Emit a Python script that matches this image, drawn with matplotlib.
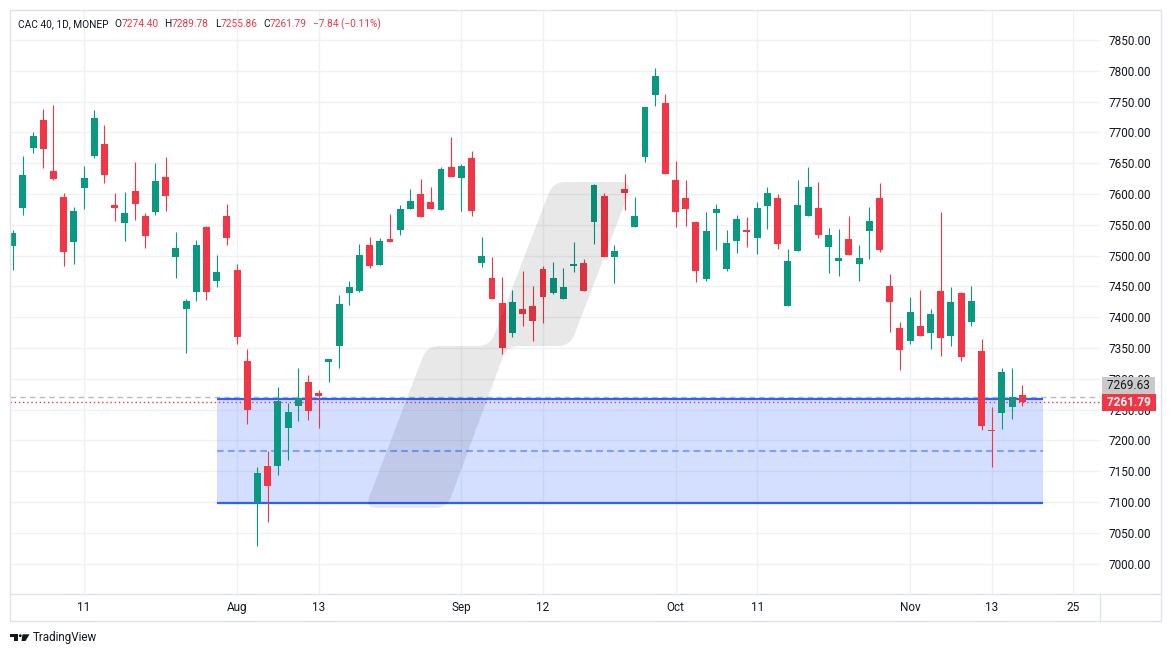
import matplotlib.pyplot as plt
import numpy as np
import pandas as pd
from matplotlib import transforms
from matplotlib.patches import Polygon, Rectangle, Circle, PathPatch
from matplotlib.path import Path

plt.rcParams['font.family'] = ['Roboto', 'DejaVu Sans']

# daily OHLC, CAC 40, 2 Jul - 18 Nov 2024
opens = [7516.1, 7577.8, 7675.2, 7720.1, 7637.3, 7595.1, 7522.6, 7610.3, 7662.2, 7681.1,
         7582.1, 7553.4, 7604.8, 7564.3, 7571.3, 7627.6, 7498.2, 7413.8, 7441.4, 7546.4,
         7459.3, 7564.3, 7476.6, 7328.9, 7097.8, 7158.4, 7159.0, 7220.7, 7256.4, 7294.8,
         7276.9, 7327.8, 7353.8, 7439.8, 7443.1, 7517.2, 7485.3, 7526.9, 7542.1, 7576.2,
         7600.0, 7587.0, 7574.5, 7643.8, 7626.5, 7658.4, 7488.5, 7463.6, 7423.1, 7374.9,
         7413.4, 7418.2, 7478.3, 7439.9, 7430.1, 7483.2, 7488.0, 7554.6, 7596.8, 7497.8,
         7608.2, 7546.5, 7660.1, 7760.8, 7747.7, 7622.7, 7593.5, 7554.5, 7462.5, 7569.7,
         7478.8, 7524.2, 7541.5, 7529.1, 7581.0, 7593.5, 7418.7, 7508.0, 7564.8, 7577.3,
         7514.5, 7491.8, 7526.9, 7486.9, 7540.5, 7593.5, 7450.6, 7382.5, 7361.9, 7385.7,
         7374.9, 7442.5, 7370.0, 7439.3, 7392.7, 7345.1, 7215.5, 7245.0, 7254.8, 7274.40]
highs = [7541.5, 7661.7, 7700.6, 7738.0, 7744.5, 7601.6, 7578.9, 7645.4, 7736.3, 7712.0,
         7601.6, 7603.2, 7651.9, 7569.1, 7650.3, 7660.0, 7538.3, 7429.5, 7525.3, 7548.0,
         7501.0, 7583.7, 7486.3, 7348.4, 7156.8, 7182.2, 7286.7, 7260.7, 7317.5, 7306.2,
         7281.8, 7332.5, 7436.0, 7458.7, 7518.8, 7530.2, 7528.6, 7567.5, 7582.1, 7608.1,
         7624.3, 7611.3, 7643.8, 7692.5, 7648.7, 7669.8, 7530.2, 7497.7, 7465.3, 7444.2,
         7475.1, 7450.7, 7483.2, 7489.7, 7479.9, 7522.1, 7494.5, 7616.0, 7601.7, 7517.3,
         7632.5, 7595.2, 7742.0, 7804.6, 7762.3, 7653.5, 7622.7, 7555.0, 7570.8, 7583.7,
         7541.5, 7565.9, 7562.6, 7587.0, 7611.3, 7600.0, 7510.7, 7622.7, 7643.8, 7619.5,
         7544.8, 7543.2, 7564.3, 7517.2, 7578.9, 7617.8, 7470.1, 7392.2, 7432.8, 7444.1,
         7413.3, 7570.8, 7449.0, 7440.5, 7450.6, 7364.6, 7253.7, 7317.0, 7317.5, 7289.78]
lows = [7476.6, 7565.9, 7667.1, 7642.7, 7623.0, 7483.6, 7486.9, 7576.2, 7659.0, 7618.4,
        7556.7, 7524.2, 7558.3, 7512.9, 7566.4, 7572.9, 7464.2, 7341.3, 7426.8, 7428.4,
        7449.5, 7517.2, 7356.5, 7226.6, 7029.1, 7068.1, 7144.4, 7168.7, 7232.0, 7233.6,
        7220.7, 7295.3, 7318.1, 7420.3, 7441.0, 7480.4, 7484.0, 7522.0, 7533.4, 7576.0,
        7563.0, 7576.0, 7574.0, 7628.0, 7572.9, 7564.8, 7482.0, 7430.0, 7340.9, 7368.5,
        7386.3, 7362.0, 7391.2, 7438.3, 7430.0, 7473.4, 7443.0, 7518.9, 7497.0, 7455.6,
        7574.1, 7546.0, 7652.0, 7742.9, 7632.0, 7546.9, 7548.6, 7457.7, 7459.3, 7509.6,
        7475.5, 7504.7, 7514.5, 7503.1, 7543.7, 7511.2, 7418.0, 7508.0, 7564.0, 7529.1,
        7472.3, 7467.4, 7501.0, 7459.3, 7495.0, 7506.4, 7376.5, 7314.8, 7357.0, 7369.0,
        7348.9, 7337.5, 7353.8, 7329.4, 7386.2, 7217.4, 7157.4, 7219.1, 7235.3, 7255.86]
closes = [7536.1, 7630.8, 7694.1, 7673.6, 7624.9, 7506.4, 7572.4, 7625.9, 7723.3, 7631.4,
          7577.8, 7569.1, 7584.3, 7532.3, 7621.1, 7597.3, 7512.3, 7426.3, 7517.2, 7441.4,
          7473.4, 7529.1, 7368.4, 7249.9, 7147.1, 7126.5, 7263.9, 7246.1, 7268.3, 7248.3,
          7272.6, 7331.6, 7421.4, 7449.0, 7501.0, 7483.6, 7523.7, 7522.6, 7575.6, 7588.6,
          7563.2, 7576.2, 7640.6, 7628.1, 7645.4, 7572.9, 7499.3, 7430.1, 7350.6, 7424.7,
          7405.8, 7394.4, 7433.4, 7463.7, 7449.1, 7486.4, 7443.1, 7614.7, 7497.8, 7507.5,
          7601.7, 7564.3, 7741.3, 7791.6, 7632.4, 7571.3, 7576.2, 7475.5, 7539.9, 7575.6,
          7520.4, 7559.4, 7538.8, 7577.3, 7601.6, 7519.4, 7491.2, 7582.1, 7611.3, 7534.0,
          7533.4, 7496.1, 7501.5, 7496.1, 7556.1, 7509.6, 7425.2, 7347.3, 7408.4, 7370.0,
          7405.2, 7366.8, 7424.7, 7335.9, 7426.3, 7223.9, 7214.7, 7311.1, 7269.63, 7261.79]

first_day = '2024-07-02'
tick_dates = ['2024-07-11', '2024-08-01', '2024-08-13', '2024-09-02', '2024-09-12',
              '2024-10-01', '2024-10-11', '2024-11-01', '2024-11-13', '2024-11-25']
tick_labels = ['11', 'Aug', '13', 'Sep', '12', 'Oct', '11', 'Nov', '13', '25']
price_ticks = list(range(7000, 7851, 50))

prev_close = 7269.63
last_close = 7261.79
channel_top = 7267.5
channel_bottom = 7098.5
channel_start = '2024-07-30'
channel_end = '2024-11-20'

header = [('CAC 40, 1D, MONEP', 'k', 0), ('O', 'k', 4.3), ('7274.40', 'r', 0),
          ('H', 'k', 4.3), ('7289.78', 'r', 0), ('L', 'k', 4.3), ('7255.86', 'r', 0),
          ('C', 'k', 4.3), ('7261.79', 'r', 0), ('\u22127.84 (\u22120.11%)', 'r', 4.3)]

UP, DOWN, INK, GRID, LINE = '#089981', '#f23645', '#131722', '#f0f1f4', '#e0e3eb'
BLUE = '#2962ff'


def rounded(verts, r):
    # closed path through verts with each corner cut to a quadratic curve
    verts = np.asarray(verts, float)
    n = len(verts)
    pts, codes = [], []
    for i, v in enumerate(verts):
        p, q = verts[i - 1], verts[(i + 1) % n]
        a = v + r * (p - v) / np.linalg.norm(p - v)
        b = v + r * (q - v) / np.linalg.norm(q - v)
        pts += [a, v, b]
        codes += [Path.MOVETO if i == 0 else Path.LINETO, Path.CURVE3, Path.CURVE3]
    pts.append(pts[0])
    codes.append(Path.CLOSEPOLY)
    return Path(pts, codes)


W, H = 1171, 657
fig = plt.figure(figsize=(W / 100, H / 100), dpi=100)
px = transforms.Affine2D().scale(1 / W, -1 / H).translate(0, 1) + fig.transFigure
ax = fig.add_axes([10 / W, 1 - 594 / H, 1090 / W, 584 / H])

cal = pd.bdate_range(first_day, '2024-12-31')
o, h, l, c = map(np.array, (opens, highs, lows, closes))
x = np.arange(len(o))
col = np.where(c >= o, UP, DOWN)
body = np.maximum(np.abs(c - o), 1.6)

ax.vlines(x, l, h, colors=col, lw=0.8, zorder=4)
ax.bar(x, body, bottom=np.minimum(o, c), width=0.68, color=col, lw=0, zorder=4)

# parallel channel
x0, x1 = cal.get_loc(pd.Timestamp(channel_start)), cal.get_loc(pd.Timestamp(channel_end))
ax.add_patch(Rectangle((x0, channel_bottom), x1 - x0, channel_top - channel_bottom,
                       fc=BLUE, alpha=0.2, lw=0, zorder=1))
ax.hlines([channel_top, channel_bottom], x0, x1, colors=BLUE, lw=1.6, zorder=3)
ax.hlines((channel_top + channel_bottom) / 2, x0, x1, colors=BLUE, alpha=0.5, lw=1.5,
          linestyles=(0, (3.2, 2.0)), zorder=3)

ax.axhline(prev_close, color='#b8bbc2', lw=1, ls=(0, (4, 3)), zorder=2)
ax.axhline(last_close, color=DOWN, lw=1, ls=(0, (1, 2)), zorder=5)

ax.set_xlim(-0.265, 106.62)
ax.set_ylim(6950.6, 7898.7)
ax.set_xticks([cal.get_loc(pd.Timestamp(d)) for d in tick_dates])
ax.set_xticklabels(tick_labels)
ax.yaxis.tick_right()
ax.set_yticks(price_ticks)
ax.set_yticklabels([f'{v:.2f}' for v in price_ticks])
ax.tick_params(axis='x', length=0, pad=5, labelsize=8.5, labelcolor=INK)
ax.tick_params(axis='y', length=0, pad=6, labelsize=8.5, labelcolor=INK)
ax.grid(True, color=GRID, lw=1)
ax.set_axisbelow(True)
for s in ax.spines.values():
    s.set_visible(False)

# watermark stroke in the middle of the pane
wm = [(553, 182), (633, 182), (570, 346), (507, 346), (447, 508), (365, 508),
      (427, 346), (490, 346)]
fig.add_artist(PathPatch(rounded(wm, 12), transform=px, fc='black', alpha=0.09, lw=0,
                         zorder=20))

# price labels on the scale
blend = transforms.blended_transform_factory(ax.transAxes, ax.transData)
ax.annotate(' 7261.79 ', xy=(1, last_close), xycoords=blend, xytext=(3, 0),
            textcoords='offset points', va='center', ha='left', fontsize=8.5,
            color='white', fontweight='bold', annotation_clip=False, zorder=30,
            bbox=dict(boxstyle='square,pad=0.18', fc=DOWN, ec='none'))
ax.annotate(' 7269.63 ', xy=(1, last_close), xycoords=blend, xytext=(3, 12.0),
            textcoords='offset points', va='center', ha='left', fontsize=8.5,
            color=INK, annotation_clip=False, zorder=30,
            bbox=dict(boxstyle='square,pad=0.18', fc='#c9c9c9', ec='none'))

# frame
fig.add_artist(Rectangle((10, 10), 1151, 611, transform=px, fill=False, ec=LINE, lw=1))
fig.add_artist(plt.Line2D([10, 1161], [594, 594], transform=px, color=LINE, lw=1))
fig.add_artist(plt.Line2D([1100, 1100], [594, 621], transform=px, color=LINE, lw=1))

# header
t = fig.text(18 / W, 1 - 24 / H, header[0][0], fontsize=7.3, color=INK, va='center')
for s, cc, gap in header[1:]:
    t = ax.annotate(s, xy=(1, 0.5), xycoords=t, xytext=(gap, 0), textcoords='offset points',
                    va='center', ha='left', fontsize=7.3,
                    color=INK if cc == 'k' else DOWN, annotation_clip=False)

# TradingView logo
fig.add_artist(Polygon([(10, 634.3), (18.3, 634.3), (18.3, 641), (14.3, 641), (14.3, 637),
                        (10, 637)], closed=True, transform=px, fc=INK, lw=0))
fig.add_artist(Circle((20.3, 635.7), 1.4, transform=px, fc=INK, lw=0))
fig.add_artist(Polygon([(22.5, 634.3), (29.5, 634.3), (25.5, 641), (21.5, 641)],
                       closed=True, transform=px, fc=INK, lw=0))
fig.text(33 / W, 1 - 638 / H, 'TradingView', fontsize=8.4, color=INK, va='center')

fig.savefig('out.png', dpi=100, facecolor='white')
